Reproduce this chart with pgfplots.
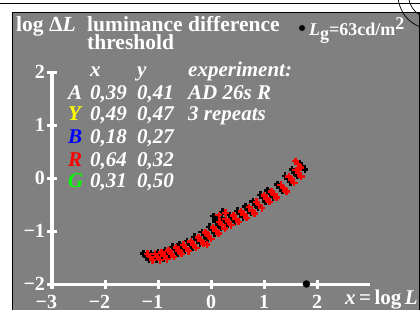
\documentclass[border=0pt]{standalone}
\usepackage{pgfplots}
\pgfplotsset{compat=1.18}
\usepackage{fontspec}
\setmainfont{Liberation Serif}
\definecolor{bg}{gray}{0.5}
\definecolor{yel}{rgb}{1,1,0}
\definecolor{grn}{rgb}{0,1,0}
\begin{document}
\begin{tikzpicture}
\useasboundingbox (0,0) rectangle (420bp,-310bp);
\fill[bg] (12bp,-12bp) rectangle (419bp,-312bp);
\draw[line width=1bp] (12bp,-312bp) -- (12bp,-12bp) -- (419bp,-12bp) -- (419bp,-312bp);
\draw[line width=0.8bp] (0,-3.7bp) -- (420bp,-3.7bp);
\begin{scope}
\clip (0,0) rectangle (420bp,-310bp);
\draw[line width=0.7bp] (432bp,5bp) circle (34bp);
\draw[line width=0.7bp] (432bp,5bp) circle (23.5bp);
\end{scope}
\begin{axis}[
  scale only axis, width=318bp, height=212bp,
  at={(52bp,-284bp)}, anchor=south west,
  xmin=-3, xmax=3, ymin=-2, ymax=2,
  axis x line=bottom, axis y line=left,
  axis line style={white, line width=3bp, -},
  tick style={white, line width=3bp},
  major tick length=9bp, tick align=center,
  xtick={-3,-2,-1,0,1,2}, ytick={-2,-1,0,1,2},
  xticklabels={\llap{−}3,\llap{−}2,\llap{−}1,0,1,2},
  yticklabels={−2,−1,0,1,2},
  tick label style={white, font=\bfseries\fontsize{20bp}{20bp}\selectfont},
  xticklabel style={yshift=-3bp},
  yticklabel style={xshift=1bp},
  clip=false,
]
\addplot[only marks, mark=+, mark size=3.5bp, black, line width=2.5bp] coordinates {
(-1.27,-1.42) (-1.22,-1.48) (-1.17,-1.54)
(-1.13,-1.42) (-1.08,-1.48) (-1.03,-1.54)
(-1.00,-1.40) (-0.95,-1.46) (-0.90,-1.52)
(-0.87,-1.36) (-0.82,-1.42) (-0.77,-1.48)
(-0.73,-1.30) (-0.68,-1.36) (-0.63,-1.42)
(-0.59,-1.25) (-0.54,-1.31) (-0.49,-1.37)
(-0.45,-1.19) (-0.40,-1.25) (-0.35,-1.31)
(-0.31,-1.11) (-0.26,-1.17) (-0.21,-1.23)
(-0.17,-1.02) (-0.12,-1.08) (-0.07,-1.14)
(-0.03,-0.92) (0.02,-0.98) (0.07,-1.04)
(0.09,-0.82) (0.14,-0.88) (0.19,-0.94)
(0.21,-0.76) (0.26,-0.82) (0.31,-0.88)
(0.35,-0.70) (0.40,-0.76) (0.45,-0.82)
(0.50,-0.62) (0.55,-0.68) (0.60,-0.74)
(0.65,-0.54) (0.70,-0.60) (0.75,-0.66)
(0.79,-0.44) (0.84,-0.50) (0.89,-0.56)
(0.93,-0.32) (0.98,-0.38) (1.03,-0.44)
(1.07,-0.24) (1.12,-0.30) (1.17,-0.36)
(1.25,-0.12) (1.30,-0.18) (1.35,-0.24)
(1.40,0.04) (1.45,-0.02) (1.50,-0.08)
(1.53,0.16) (1.58,0.10) (1.63,0.04)
(1.67,0.28) (1.72,0.22) (1.77,0.16)
(0.05,-0.72) (0.10,-0.78) (0.22,-0.64) (-0.15,-1.22)
};
\addplot[only marks, mark=+, mark size=3.5bp, red, line width=2.5bp] coordinates {
(-1.20,-1.43) (-1.15,-1.49) (-1.10,-1.55)
(-1.06,-1.43) (-1.01,-1.49) (-0.96,-1.55)
(-0.93,-1.41) (-0.88,-1.47) (-0.83,-1.53)
(-0.80,-1.37) (-0.75,-1.43) (-0.70,-1.49)
(-0.66,-1.31) (-0.61,-1.37) (-0.56,-1.43)
(-0.52,-1.26) (-0.47,-1.32) (-0.42,-1.38)
(-0.38,-1.20) (-0.33,-1.26) (-0.28,-1.32)
(-0.24,-1.12) (-0.19,-1.18) (-0.14,-1.24)
(-0.10,-1.03) (-0.05,-1.09) (0.00,-1.15)
(0.04,-0.93) (0.09,-0.99) (0.14,-1.05)
(0.16,-0.83) (0.21,-0.89) (0.26,-0.95)
(0.28,-0.77) (0.33,-0.83) (0.38,-0.89)
(0.42,-0.71) (0.47,-0.77) (0.52,-0.83)
(0.57,-0.63) (0.62,-0.69) (0.67,-0.75)
(0.72,-0.55) (0.77,-0.61) (0.82,-0.67)
(0.86,-0.45) (0.91,-0.51) (0.96,-0.57)
(1.00,-0.33) (1.05,-0.39) (1.10,-0.45)
(1.14,-0.25) (1.19,-0.31) (1.24,-0.37)
(1.32,-0.13) (1.37,-0.19) (1.42,-0.25)
(1.47,0.03) (1.52,-0.03) (1.57,-0.09)
(1.60,0.15) (1.65,0.09) (1.70,0.03)
(1.59,0.32) (1.64,0.26) (1.69,0.20)
(0.15,-0.70) (0.27,-0.66) (-0.08,-1.25)
};
\addplot[only marks, mark=*, mark size=3.5bp, black] coordinates {(1.8,-2)};
\end{axis}
\begin{scope}[every node/.style={inner sep=0pt, anchor=base west, text=white}]
\node[font=\bfseries\fontsize{21.5bp}{21.5bp}\selectfont] at (16bp,-31.5bp) {log Δ\textit{L}};
\node[font=\bfseries\fontsize{21.5bp}{21.5bp}\selectfont] at (87bp,-31.5bp) {luminance difference};
\node[font=\bfseries\fontsize{21.5bp}{21.5bp}\selectfont] at (87bp,-49.5bp) {threshold};
\fill[black] (302bp,-28bp) circle (3bp);
\node[font=\bfseries\fontsize{18bp}{18bp}\selectfont] at (309bp,-35.5bp) {\textit{L}\raisebox{-4bp}{g}=63cd/m\raisebox{6bp}{2}};
\begin{scope}[every node/.append style={font=\bfseries\itshape\fontsize{21bp}{21bp}\selectfont}]
\node at (90bp,-76.7bp) {x};
\node at (137bp,-76.7bp) {y};
\node at (188bp,-76.7bp) {experiment:};
\node at (68bp,-99.3bp) {A};
\node at (90bp,-99.3bp) {0,39};
\node at (137bp,-99.3bp) {0,41};
\node at (188bp,-99.3bp) {AD 26s R};
\node[text=yel] at (68bp,-120.5bp) {Y};
\node at (90bp,-120.5bp) {0,49};
\node at (137bp,-120.5bp) {0,47};
\node at (188bp,-120.5bp) {3 repeats};
\node[text=blue] at (68bp,-143.3bp) {B};
\node at (90bp,-143.3bp) {0,18};
\node at (137bp,-143.3bp) {0,27};
\node[text=red] at (68bp,-166bp) {R};
\node at (90bp,-166bp) {0,64};
\node at (137bp,-166bp) {0,32};
\node[text=grn] at (68bp,-187.5bp) {G};
\node at (90bp,-187.5bp) {0,31};
\node at (137bp,-187.5bp) {0,50};
\end{scope}
\node[font=\bfseries\fontsize{21bp}{21bp}\selectfont, anchor=base east] at (418bp,-304bp) {\textit{x}\,=\,log\,\textit{L}};
\end{scope}
\end{tikzpicture}
\end{document}
